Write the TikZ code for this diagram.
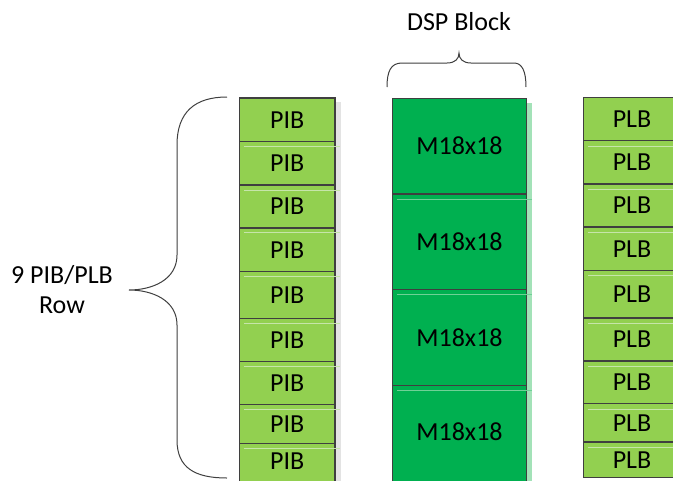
\documentclass[tikz,border=0pt]{standalone}
\usepackage{fontspec}
\setmainfont{Carlito}
\definecolor{lgreen}{HTML}{92D050}
\definecolor{dgreen}{HTML}{00B050}
\definecolor{bordergray}{HTML}{3F3F3F}
\definecolor{shadowgray}{HTML}{E3E3E3}
\definecolor{shadowgreen}{HTML}{A3E2B8}
\definecolor{hilite}{HTML}{C6E5AA}
\definecolor{hilitedark}{HTML}{6FD196}
\tikzset{
  cellbox/.style={draw=bordergray, line width=1.2pt, inner sep=0pt, text=black,
    font=\fontsize{26}{30}\selectfont},
  pibbox/.style={cellbox, fill=lgreen, minimum width=95.5pt},
  plbbox/.style={cellbox, fill=lgreen, minimum width=97pt},
  dspbox/.style={cellbox, fill=dgreen, minimum width=134.4pt},
  bracepath/.style={draw=bordergray, line width=1pt},
  lbl/.style={font=\fontsize{26}{30}\selectfont, text=black, align=center, inner sep=0pt},
}
\begin{document}
\begin{tikzpicture}[x=1pt,y=-1pt]
\useasboundingbox (0,0) rectangle (673,480);
% shadows
\fill[shadowgray] (335,102) rectangle (340.5,490);
\fill[shadowgreen] (526.7,103) rectangle (531.7,490);
% PIB column
\foreach \i/\t/\b in {1/98/141.5, 2/141.5/185, 3/185/228, 4/228/271.5, 5/271.5/318.5,
  6/318.5/361.5, 7/361.5/404.5, 8/404.5/443.5} {
  \node[pibbox, minimum height={\b-\t}] (pib\i) at (287.25,{(\t+\b)/2}) {PIB};
}
\node[pibbox, minimum height=50] (pib9) at (287.25,468.5) {};
\node[lbl] (pib9text) at (287.25,461) {PIB};
% PLB column
\foreach \i/\t/\b in {1/97.5/140.5, 2/140.5/184, 3/184/227, 4/227/270.5, 5/270.5/318,
  6/318/361, 7/361/403.5, 8/403.5/442, 9/442/477.5} {
  \node[plbbox, minimum height={\b-\t}] (plb\i) at (632,{(\t+\b)/2}) {PLB};
}
% DSP column
\foreach \i/\t/\b in {1/98.3/194, 2/194/289.3, 3/289.3/385.3} {
  \node[dspbox, minimum height={\b-\t}] (dsp\i) at (459.5,{(\t+\b)/2}) {M18x18};
}
\node[dspbox, minimum height=110] (dsp4) at (459.5,440.3) {};
\node[lbl] (dsp4text) at (459.5,432) {M18x18};
% light lines
\foreach \y in {146.5,190,232.5,276,323.5,366.5,409.5,448} {
  \draw[hilite, line width=0.9pt] (244,\y) -- (340,\y);
  \draw[hilite, line width=0.9pt] (588,{\y-0.5}) -- (673,{\y-0.5});
}
\foreach \y in {199,294.3,390.3} {
  \draw[hilitedark, line width=0.9pt] (397,\y) -- (531.7,\y);
}
% braces
\draw[bracepath] (227,97) .. controls (195,97) and (177,112) .. (177,145) -- (177,255)
  .. controls (177,280) and (152,290) .. (129,290)
  .. controls (152,290) and (177,300) .. (177,325) -- (177,440)
  .. controls (177,468) and (195,478) .. (227,478);
\draw[bracepath] (387,87) .. controls (387,71) and (391,63) .. (402,63) -- (447,63)
  .. controls (455,63) and (459,59) .. (459,53)
  .. controls (459,59) and (463,63) .. (471,63) -- (514,63)
  .. controls (522,63) and (526,71) .. (526,87);
% labels
\node[lbl] (dsplabel) at (459,22) {DSP Block};
\node[lbl] (rowlabel) at (62,290) {9 PIB/PLB\\Row};
\end{tikzpicture}
\end{document}
